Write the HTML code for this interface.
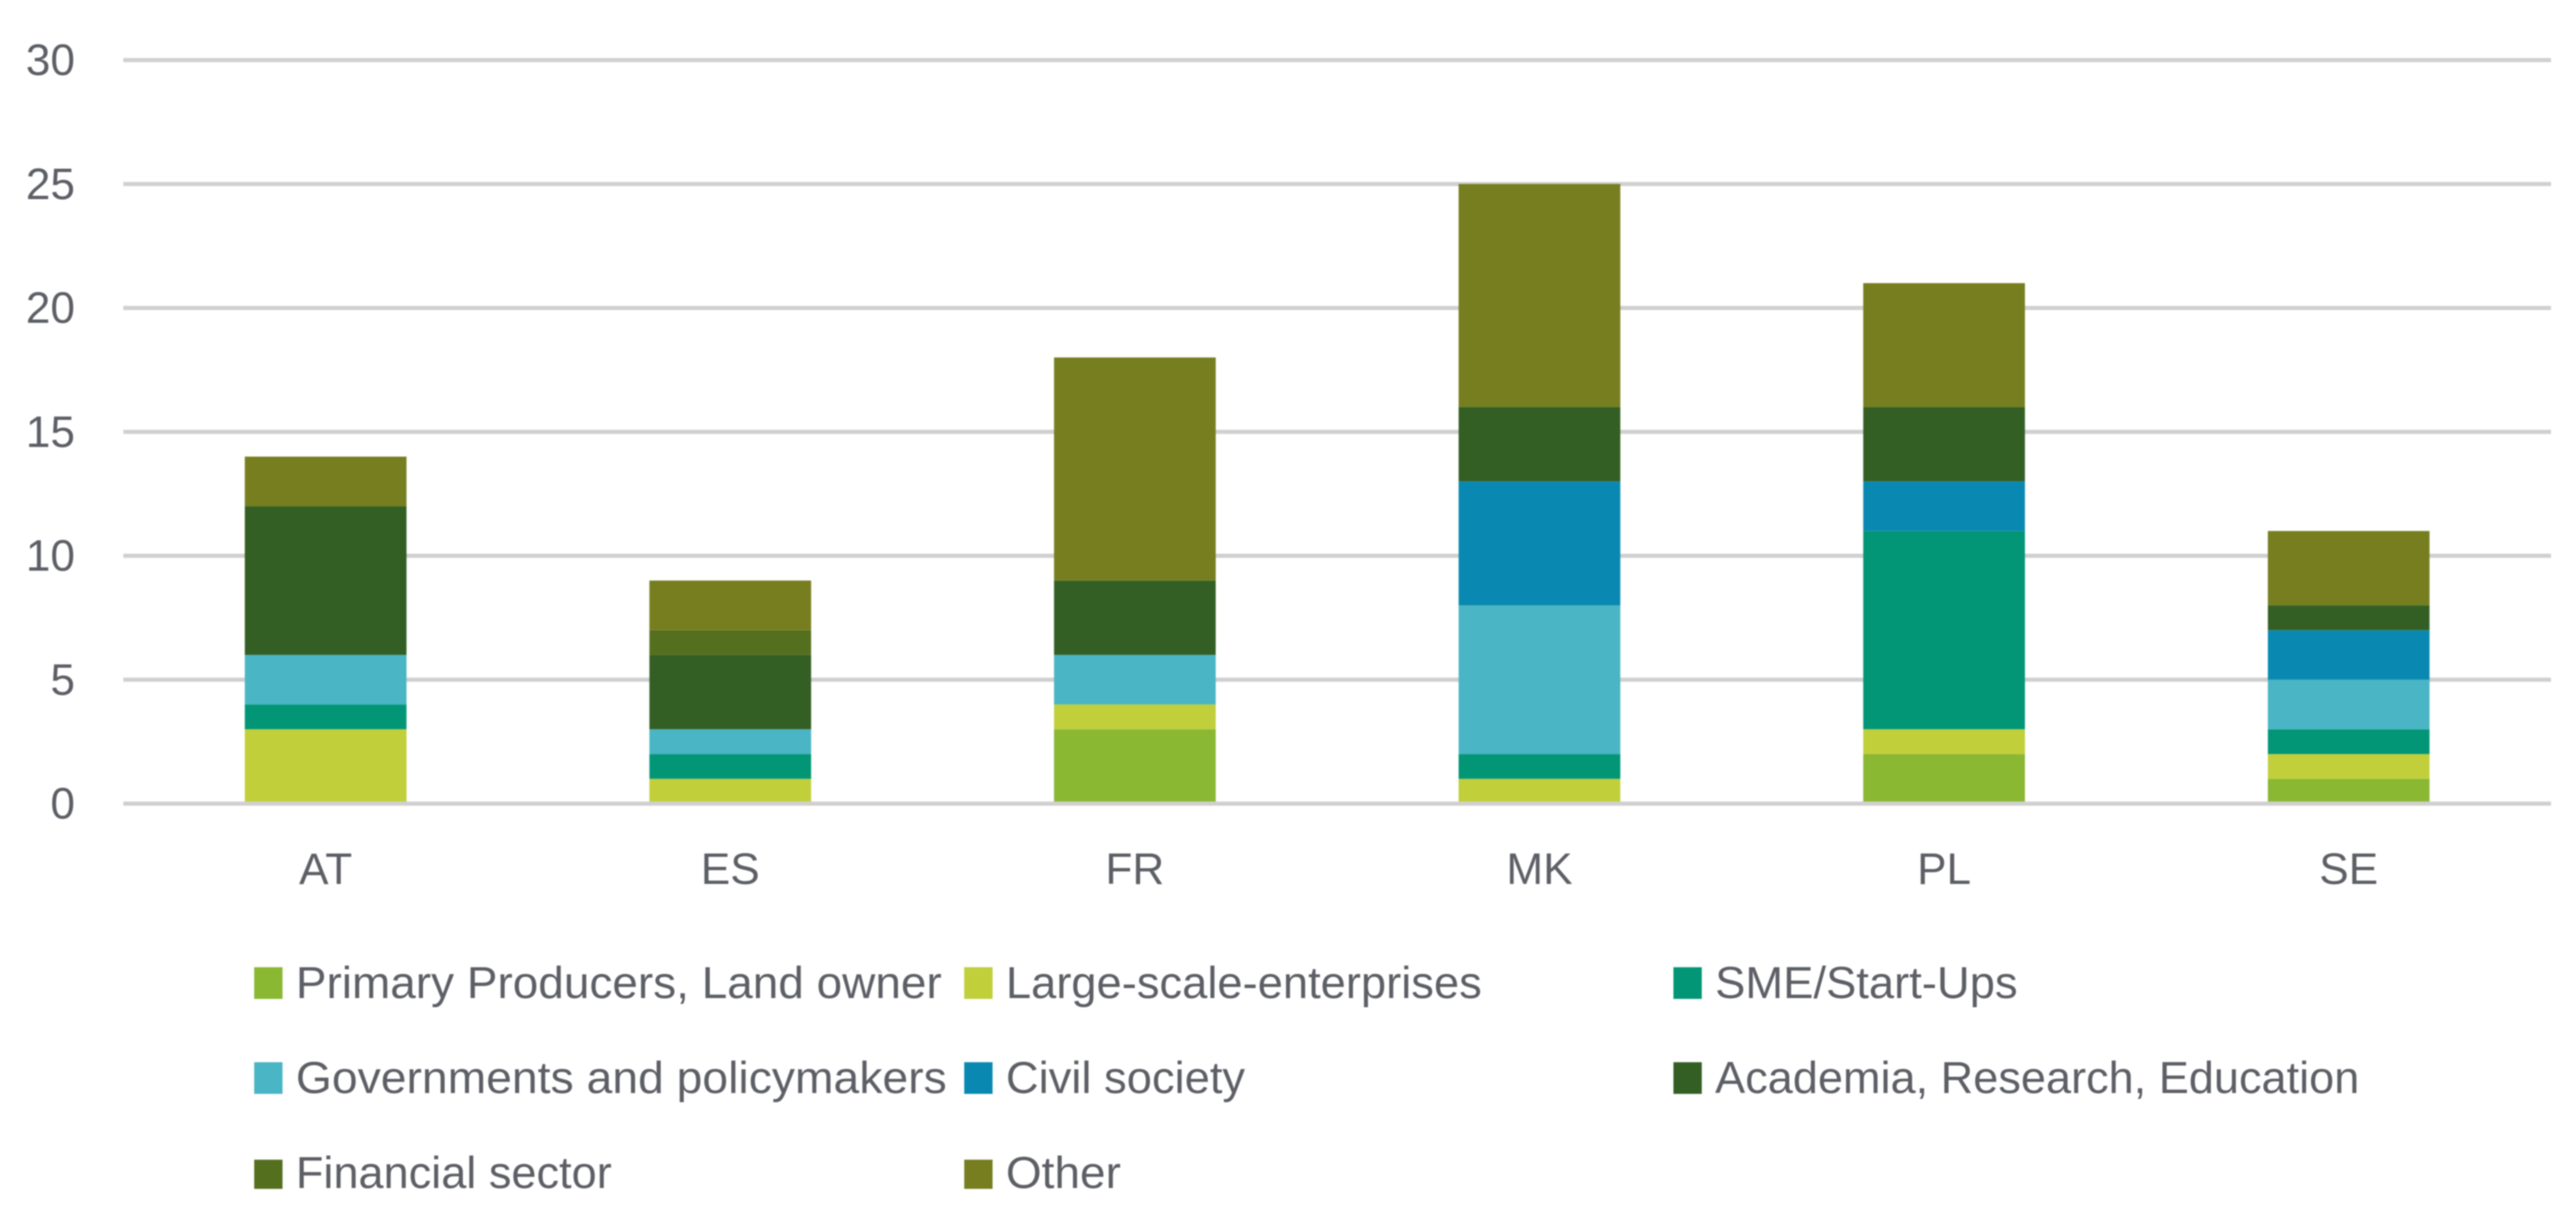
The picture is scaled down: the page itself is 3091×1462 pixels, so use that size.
<!DOCTYPE html>
<html lang="en">
<head>
<meta charset="utf-8">
<title>Stacked bar chart by country and stakeholder group</title>
<style>
html,body{margin:0;padding:0;background:#fff;width:3091px;height:1462px;overflow:hidden}
svg{display:block;filter:blur(.7px)}
text{font-family:"Liberation Sans",sans-serif;fill:#5d5f66}
</style>
</head>
<body>
<svg id="chart" xmlns="http://www.w3.org/2000/svg" width="3091" height="1462" viewBox="0 0 3091 1462">
  <g id="grid"></g>
  <g id="bars"></g>
  <g id="axis-line"></g>
  <g id="y-ticks"></g>
  <g id="x-ticks"></g>
  <g font-size="54">
    <g>
      <rect x="305" y="1161" width="34" height="38" fill="#8ab833"/>
      <text x="355" y="1198" textLength="775" lengthAdjust="spacingAndGlyphs">Primary Producers, Land owner</text>
    </g>
    <g>
      <rect x="1157" y="1161" width="34" height="38" fill="#c0cf3a"/>
      <text x="1207" y="1198" textLength="571" lengthAdjust="spacingAndGlyphs">Large-scale-enterprises</text>
    </g>
    <g>
      <rect x="2008" y="1161" width="34" height="38" fill="#029676"/>
      <text x="2058" y="1198" textLength="363" lengthAdjust="spacingAndGlyphs">SME/Start-Ups</text>
    </g>
    <g>
      <rect x="305" y="1275" width="34" height="38" fill="#4ab5c4"/>
      <text x="355" y="1312" textLength="781" lengthAdjust="spacingAndGlyphs">Governments and policymakers</text>
    </g>
    <g>
      <rect x="1157" y="1275" width="34" height="38" fill="#0989b1"/>
      <text x="1207" y="1312" textLength="287" lengthAdjust="spacingAndGlyphs">Civil society</text>
    </g>
    <g>
      <rect x="2008" y="1275" width="34" height="38" fill="#345f24"/>
      <text x="2058" y="1312" textLength="773" lengthAdjust="spacingAndGlyphs">Academia, Research, Education</text>
    </g>
    <g>
      <rect x="305" y="1392" width="34" height="35" fill="#54701f"/>
      <text x="355" y="1426" textLength="379" lengthAdjust="spacingAndGlyphs">Financial sector</text>
    </g>
    <g>
      <rect x="1157" y="1392" width="34" height="35" fill="#767e20"/>
      <text x="1207" y="1426" textLength="138" lengthAdjust="spacingAndGlyphs">Other</text>
    </g>
  </g>
</svg>
<script>
const categories = ["AT", "ES", "FR", "MK", "PL", "SE"];
const yTickLabels = [0, 5, 10, 15, 20, 25, 30];
const primaryProducers = [0, 0, 3, 0, 2, 1];
const largeScale = [3, 1, 1, 1, 1, 1];
const smeStartUps = [1, 1, 0, 1, 8, 1];
const governments = [2, 1, 2, 6, 0, 2];
const civilSociety = [0, 0, 0, 5, 2, 2];
const academia = [6, 3, 3, 3, 3, 1];
const financial = [0, 1, 0, 0, 0, 0];
const other = [2, 2, 9, 9, 5, 3];

const SVGNS = "http://www.w3.org/2000/svg";
const plot = { left: 148, right: 3061, zeroY: 964.6, unit: 29.75, barWidth: 194 };
const yScale = v => plot.zeroY - v * plot.unit;
const xScale = i => plot.left + (i + 0.5) * (plot.right - plot.left) / categories.length;

function make(tag, attrs, parent) {
  const el = document.createElementNS(SVGNS, tag);
  for (const k in attrs) el.setAttribute(k, attrs[k]);
  parent.appendChild(el);
  return el;
}

const gridG = document.getElementById("grid");
const barsG = document.getElementById("bars");
const axisG = document.getElementById("axis-line");
const yG = document.getElementById("y-ticks");
const xG = document.getElementById("x-ticks");

yTickLabels.forEach(t => {
  const line = make("line", { x1: plot.left, x2: plot.right, y1: yScale(t), y2: yScale(t), stroke: "#d0d0d0", "stroke-width": 5 }, t === 0 ? axisG : gridG);
  
  
  const label = make("text", { x: 90, y: yScale(t) + 18, "text-anchor": "end", "font-size": 53 }, yG);
  
  
  label.textContent = t;
});

const seriesList = [
  { key: "primary-producers", values: primaryProducers, color: "#8ab833" },
  { key: "large-scale-enterprises", values: largeScale, color: "#c0cf3a" },
  { key: "sme-startups", values: smeStartUps, color: "#029676" },
  { key: "governments", values: governments, color: "#4ab5c4" },
  { key: "civil-society", values: civilSociety, color: "#0989b1" },
  { key: "academia", values: academia, color: "#345f24" },
  { key: "financial-sector", values: financial, color: "#54701f" },
  { key: "other", values: other, color: "#767e20" }
];

categories.forEach((cat, i) => {
  let base = 0;
  seriesList.forEach(s => {
    const v = s.values[i];
    if (v > 0) {
      const rect = make("rect", {
        x: xScale(i) - plot.barWidth / 2,
        y: yScale(base + v),
        width: plot.barWidth,
        height: v * plot.unit,
        fill: s.color
      }, barsG);
      
      
      rect.setAttribute('data-series', s.key);
      rect.setAttribute('data-category', cat);
    }
    base += v;
  });
  const label = make("text", { x: xScale(i), y: 1061, "text-anchor": "middle", "font-size": 53 }, xG);
  
  
  label.textContent = cat;
});
</script>
</body>
</html>
